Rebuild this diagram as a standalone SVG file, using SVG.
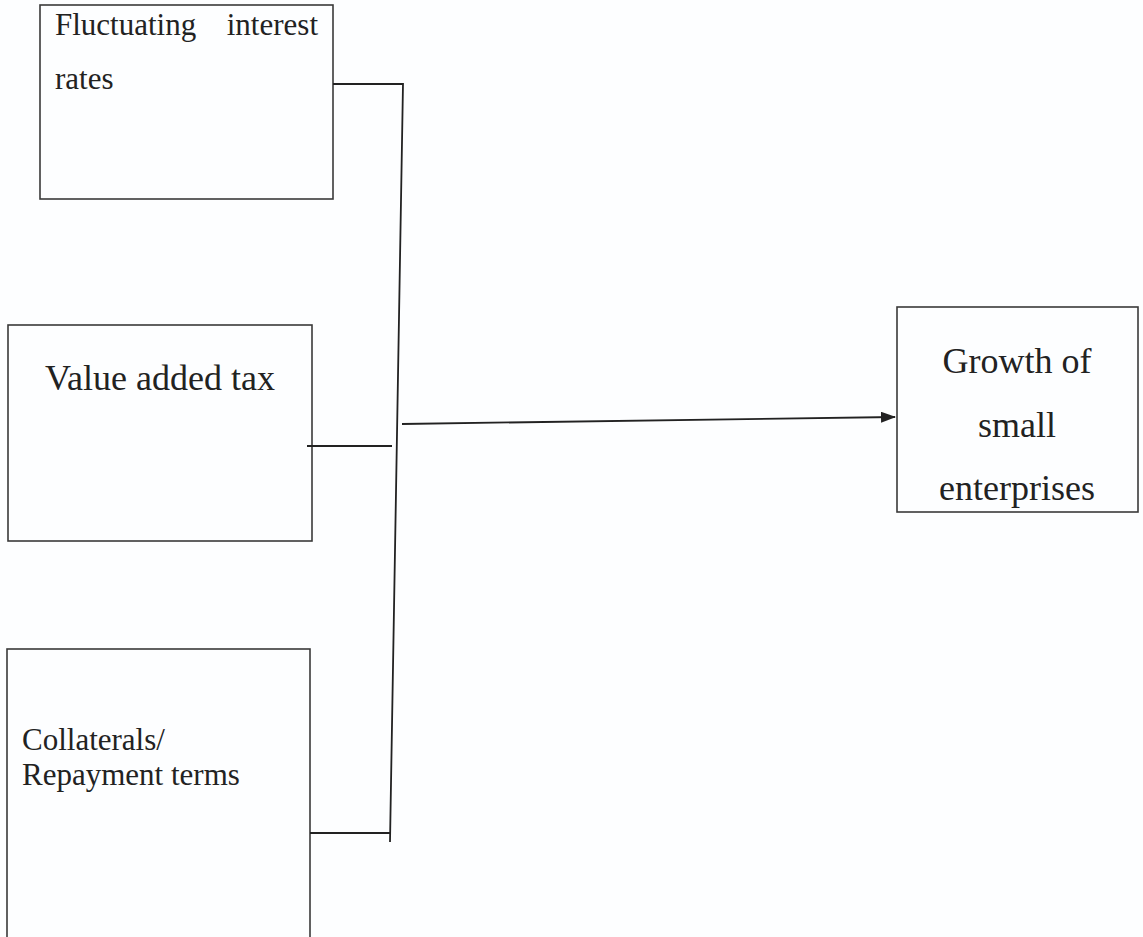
<svg xmlns="http://www.w3.org/2000/svg" width="1143" height="937" viewBox="0 0 1143 937">
<style>
.box{fill:none;stroke:#3a3a3a;stroke-width:1.6}
.t{font-family:"Liberation Serif","Times New Roman",serif;fill:#222}
.c{fill:none;stroke:#222;stroke-width:1.8}
</style>
<defs>
<marker id="ah" markerWidth="15" markerHeight="11" refX="14" refY="5.5" orient="auto" markerUnits="userSpaceOnUse">
<path d="M0,0 L15,5.5 L0,11 z" fill="#222"/>
</marker>
</defs>
<rect width="1143" height="937" fill="#fdfeff"/>
<g id="n1">
<rect class="box" x="40" y="5" width="293" height="194"/>
<text class="t" x="55" y="35" font-size="31">Fluctuating</text>
<text class="t" x="318" y="35" font-size="31" text-anchor="end">interest</text>
<text class="t" x="55" y="89" font-size="31">rates</text>
</g>
<g id="n2">
<rect class="box" x="8" y="325" width="304" height="216"/>
<text class="t" x="45" y="390" font-size="36">Value added tax</text>
</g>
<g id="n3">
<rect class="box" x="7" y="649" width="303" height="300"/>
<text class="t" x="22" y="750" font-size="31">Collaterals/</text>
<text class="t" x="22" y="785" font-size="31">Repayment terms</text>
</g>
<g id="n4">
<rect class="box" x="897" y="307" width="241" height="205"/>
<text class="t" x="1017" y="373" font-size="36" text-anchor="middle">Growth of</text>
<text class="t" x="1017" y="437" font-size="36" text-anchor="middle">small</text>
<text class="t" x="1017" y="500" font-size="36" text-anchor="middle">enterprises</text>
</g>
<g id="connectors">
<path class="c" d="M333,84 L403,84 L390,842"/>
<path class="c" d="M307,446 L392,446"/>
<path class="c" d="M310,833 L390,833"/>
<path class="c" d="M402,424 L895,417" marker-end="url(#ah)"/>
</g>
</svg>
